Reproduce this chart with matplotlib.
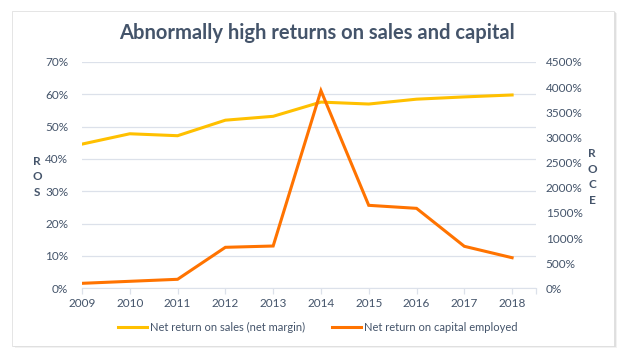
import matplotlib.pyplot as plt
from matplotlib.patches import Rectangle
from matplotlib.ticker import MultipleLocator, FuncFormatter

years = [2009, 2010, 2011, 2012, 2013, 2014, 2015, 2016, 2017, 2018]
ros = [44.6, 47.8, 47.2, 52.0, 53.2, 57.6, 57.0, 58.5, 59.2, 59.8]
roce = [99, 139, 179, 815, 841, 3930, 1650, 1590, 835, 608]

ros_label = "Net return on sales (net margin)"
roce_label = "Net return on capital employed"
title = "Abnormally high returns on sales and capital"

yellow = "#FFC000"
orange = "#FF7300"
txt = "#44546A"
grid = "#DCE1EA"

plt.rcParams['font.family'] = ['Lato', 'DejaVu Sans']

fig = plt.figure(figsize=(6.34, 3.63), dpi=100)
fig.patch.set_facecolor("white")

# card with a soft shadow
for i, a in enumerate([0.05, 0.08, 0.12]):
    d = (3 - i) / 634
    fig.patches.append(Rectangle((12 / 634 + d, 1 - 346 / 363 - d), 602 / 634, 335 / 363,
                                 transform=fig.transFigure, facecolor="black", alpha=a,
                                 edgecolor="none", zorder=0))
fig.patches.append(Rectangle((12 / 634, 1 - 346 / 363), 602 / 634, 335 / 363,
                             transform=fig.transFigure, facecolor="white",
                             edgecolor="#E0E0E0", linewidth=0.6, zorder=1))

ax = fig.add_axes([82 / 634, 1 - 288.3 / 363, 454 / 634, 226.3 / 363])
ax.set_zorder(3)
ax.patch.set_alpha(0)
ax2 = ax.twinx()

l1, = ax.plot(years, ros, color=yellow, linewidth=2.2, solid_joinstyle="miter", zorder=3)
l2, = ax2.plot(years, roce, color=orange, linewidth=2.2, solid_joinstyle="miter", zorder=3)

ax.set_xlim(2009, 2018.5)
ax.set_ylim(0, 70)
ax2.set_ylim(0, 4500)
ax.yaxis.set_major_locator(MultipleLocator(10))
ax2.yaxis.set_major_locator(MultipleLocator(500))
ax.yaxis.set_major_formatter(FuncFormatter(lambda v, p: f"{v:.0f}%"))
ax2.yaxis.set_major_formatter(FuncFormatter(lambda v, p: f"{v:.0f}%"))
ax.set_xticks(years + [2018.5])
ax.set_xticklabels([str(y) for y in years] + [""])

ax.grid(axis="y", color=grid, linewidth=0.9)
ax.set_axisbelow(True)
for a in (ax, ax2):
    for s in a.spines.values():
        s.set_visible(False)
ax.spines["bottom"].set_visible(True)
ax.spines["bottom"].set_color(grid)
ax.tick_params(axis="x", colors=grid, length=4, width=0.9, labelcolor=txt, labelsize=8.5, pad=3)
ax.tick_params(axis="y", length=0, labelcolor=txt, labelsize=8.5, pad=10)
ax2.tick_params(axis="y", length=0, labelcolor=txt, labelsize=8.5, pad=7)

fig.text(317 / 634, 1 - 33 / 363, title, ha="center", va="center", fontsize=14.5,
         fontweight="bold", color=txt)
fig.text(37 / 634, 1 - 177 / 363, "R\nO\nS", ha="center", va="center", fontsize=8.5,
         fontweight="bold", color=txt, linespacing=1.55)
fig.text(592 / 634, 1 - 177 / 363, "R\nO\nC\nE", ha="center", va="center", fontsize=8.5,
         fontweight="bold", color=txt, linespacing=1.55)

fig.legend([l1, l2], [ros_label, roce_label], loc="center", ncol=2,
           bbox_to_anchor=(318 / 634, 1 - 327 / 363), frameon=False, fontsize=8,
           labelcolor=txt, handlelength=2.6, handletextpad=0.3, columnspacing=2.4)

fig.savefig("out.png", dpi=100)
